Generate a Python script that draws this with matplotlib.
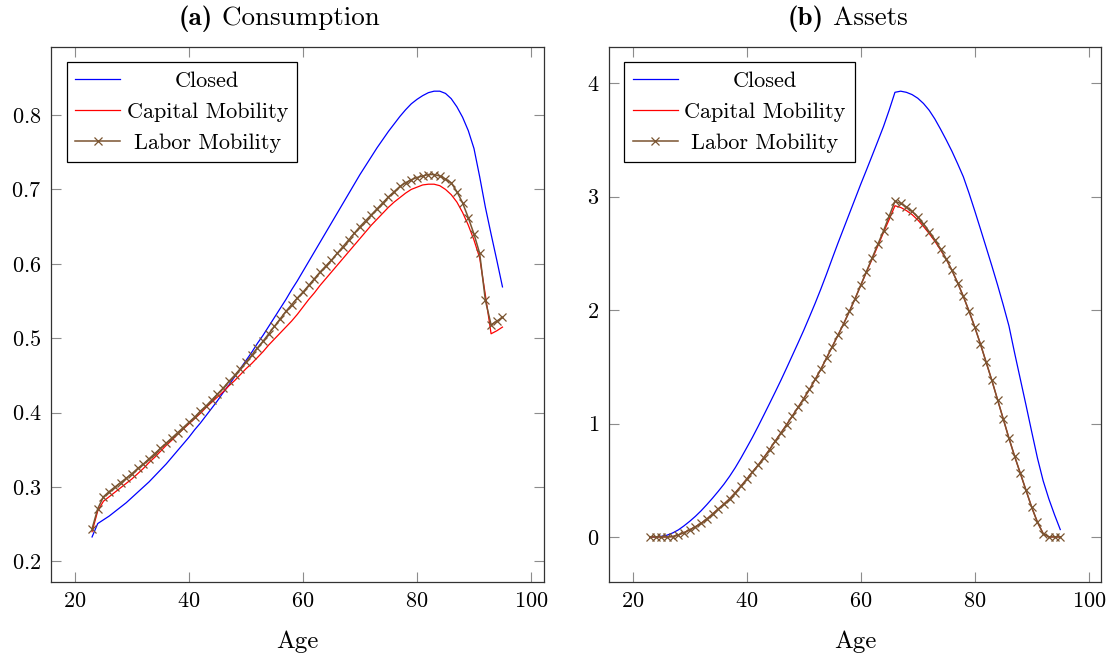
import matplotlib
matplotlib.use("Agg")
import matplotlib.pyplot as plt
import numpy as np

plt.rcParams["font.family"] = ["cmr10", "DejaVu Serif"]
plt.rcParams["mathtext.fontset"] = "cm"
plt.rcParams["axes.formatter.use_mathtext"] = True
plt.rcParams["axes.unicode_minus"] = False

ages = np.arange(23, 96)

# (a) consumption
cons_closed = [
    0.233, 0.251, 0.256, 0.261, 0.267, 0.273, 0.279, 0.286, 0.293, 0.300,
    0.307, 0.315, 0.323, 0.331, 0.340, 0.349, 0.358, 0.367, 0.377, 0.386,
    0.396, 0.406, 0.416, 0.427, 0.437, 0.448, 0.459, 0.470, 0.481, 0.493,
    0.504, 0.516, 0.528, 0.540, 0.552, 0.565, 0.577, 0.590, 0.603, 0.616,
    0.629, 0.642, 0.655, 0.668, 0.681, 0.694, 0.707, 0.720, 0.732, 0.744,
    0.756, 0.767, 0.778, 0.788, 0.798, 0.807, 0.815, 0.821, 0.826, 0.830,
    0.832, 0.832, 0.829, 0.822, 0.811, 0.797, 0.779, 0.755, 0.717, 0.676,
    0.640, 0.605, 0.569,
]
cons_capital = [
    0.240, 0.268, 0.281, 0.287, 0.293, 0.299, 0.305, 0.311, 0.318, 0.325,
    0.333, 0.340, 0.348, 0.356, 0.363, 0.371, 0.378, 0.385, 0.392, 0.399,
    0.407, 0.414, 0.421, 0.428, 0.436, 0.443, 0.451, 0.459, 0.466, 0.474,
    0.482, 0.491, 0.499, 0.507, 0.515, 0.523, 0.532, 0.542, 0.552, 0.561,
    0.571, 0.580, 0.589, 0.598, 0.607, 0.616, 0.625, 0.634, 0.643, 0.652,
    0.660, 0.668, 0.676, 0.683, 0.689, 0.695, 0.700, 0.703, 0.706, 0.707,
    0.707, 0.705, 0.700, 0.693, 0.683, 0.669, 0.652, 0.632, 0.608, 0.558,
    0.506, 0.510, 0.515,
]
cons_labor = [
    0.244, 0.271, 0.287, 0.294, 0.300, 0.306, 0.312, 0.318, 0.325, 0.331,
    0.338, 0.345, 0.352, 0.359, 0.366, 0.373, 0.380, 0.387, 0.394, 0.402,
    0.409, 0.417, 0.425, 0.433, 0.442, 0.450, 0.459, 0.468, 0.477, 0.487,
    0.496, 0.506, 0.516, 0.526, 0.536, 0.545, 0.554, 0.562, 0.571, 0.580,
    0.589, 0.597, 0.605, 0.614, 0.623, 0.632, 0.641, 0.650, 0.658, 0.666,
    0.674, 0.682, 0.690, 0.697, 0.704, 0.709, 0.713, 0.716, 0.718, 0.720,
    0.720, 0.718, 0.714, 0.709, 0.697, 0.682, 0.662, 0.640, 0.614, 0.551,
    0.518, 0.523, 0.528,
]

# (b) assets
assets_closed = [
    0.000, 0.000, 0.005, 0.015, 0.035, 0.062, 0.098, 0.138, 0.182, 0.231,
    0.285, 0.342, 0.402, 0.465, 0.535, 0.612, 0.697, 0.787, 0.878, 0.975,
    1.075, 1.176, 1.278, 1.382, 1.490, 1.600, 1.710, 1.822, 1.940, 2.060,
    2.186, 2.318, 2.455, 2.590, 2.720, 2.850, 2.980, 3.110, 3.235, 3.362,
    3.490, 3.620, 3.765, 3.920, 3.930, 3.920, 3.900, 3.868, 3.822, 3.762,
    3.685, 3.595, 3.500, 3.400, 3.290, 3.175, 3.030, 2.875, 2.715, 2.553,
    2.390, 2.222, 2.045, 1.860, 1.620, 1.390, 1.160, 0.925, 0.695, 0.495,
    0.335, 0.195, 0.065,
]
assets_capital = [
    0.000, 0.000, 0.000, 0.000, 0.003, 0.018, 0.038, 0.063, 0.090, 0.120,
    0.158, 0.202, 0.247, 0.290, 0.336, 0.390, 0.449, 0.510, 0.573, 0.633,
    0.700, 0.770, 0.845, 0.917, 0.990, 1.066, 1.142, 1.220, 1.300, 1.388,
    1.478, 1.578, 1.678, 1.778, 1.880, 1.988, 2.100, 2.218, 2.336, 2.450,
    2.566, 2.685, 2.800, 2.920, 2.905, 2.878, 2.842, 2.795, 2.738, 2.675,
    2.607, 2.530, 2.448, 2.350, 2.240, 2.120, 1.990, 1.850, 1.700, 1.540,
    1.380, 1.210, 1.040, 0.870, 0.710, 0.560, 0.410, 0.260, 0.130, 0.030,
    0.000, 0.000, 0.000,
]
assets_labor = [
    0.000, 0.000, 0.000, 0.000, 0.003, 0.018, 0.038, 0.063, 0.090, 0.120,
    0.158, 0.202, 0.247, 0.290, 0.336, 0.390, 0.449, 0.510, 0.573, 0.633,
    0.700, 0.770, 0.845, 0.917, 0.990, 1.066, 1.142, 1.220, 1.300, 1.388,
    1.478, 1.578, 1.678, 1.778, 1.880, 1.988, 2.100, 2.220, 2.340, 2.460,
    2.580, 2.700, 2.830, 2.960, 2.940, 2.910, 2.870, 2.820, 2.760, 2.692,
    2.620, 2.540, 2.450, 2.350, 2.240, 2.120, 1.990, 1.850, 1.700, 1.540,
    1.380, 1.210, 1.040, 0.870, 0.710, 0.560, 0.410, 0.260, 0.130, 0.030,
    0.000, 0.000, 0.000,
]

labels = ["Closed", "Capital Mobility", "Labor Mobility"]
BLUE = "#0000ff"
RED = "#ff0000"
BROWN = "#7a5430"

fig = plt.figure(figsize=(11.14, 6.62), dpi=100)
ax_a = fig.add_axes([0.0458, 0.1216, 0.4421, 0.808])
ax_b = fig.add_axes([0.5465, 0.1216, 0.4421, 0.808])
renderer = fig.canvas.get_renderer()


def panel_title(tag, name, xc, size=19.5, yb=0.962):
    # subcaption: bold "(a)" + regular name, centred on the subfigure
    t1 = fig.text(xc, yb, tag, fontfamily="cmb10", fontsize=size,
                  va="baseline", ha="left")
    t2 = fig.text(xc, yb, " " + name, fontsize=size, va="baseline", ha="left")
    w1 = t1.get_window_extent(renderer).width / fig.bbox.width
    w2 = t2.get_window_extent(renderer).width / fig.bbox.width
    t1.set_x(xc - (w1 + w2) / 2)
    t2.set_x(xc - (w1 + w2) / 2 + w1)


def draw_panel(ax, closed, capital, labor):
    ax.plot(ages, closed, color=BLUE, lw=0.9, label=labels[0])
    ax.plot(ages, capital, color=RED, lw=0.9, label=labels[1])
    ax.plot(ages, labor, color=BROWN, lw=1.1, marker="x", ms=5.5, mew=0.9,
            label=labels[2])
    ax.margins(x=0.1, y=0.1)
    ax.set_xticks([20, 40, 60, 80, 100])
    ax.tick_params(direction="in", length=7.5, width=0.8, color="#8c8c8c",
                   top=True, right=True, labelsize=16, pad=7)
    for sp in ax.spines.values():
        sp.set_color("#333333")
        sp.set_linewidth(0.9)
    ax.set_xlabel("Age", fontsize=18, labelpad=14.5)
    leg = ax.legend(loc="upper left", fontsize=16, frameon=True,
                    fancybox=False, framealpha=1, edgecolor="black",
                    borderaxespad=0.7, handlelength=2.0, handletextpad=0.3,
                    labelspacing=0.52, borderpad=0.4)
    leg.get_frame().set_linewidth(0.9)
    return leg


leg_a = draw_panel(ax_a, cons_closed, cons_capital, cons_labor)
ax_a.set_yticks([0.2, 0.3, 0.4, 0.5, 0.6, 0.7, 0.8])
leg_b = draw_panel(ax_b, assets_closed, assets_capital, assets_labor)
ax_b.set_yticks([0, 1, 2, 3, 4])

panel_title("(a)", "Consumption", 279 / 1114)
panel_title("(b)", "Assets", 848 / 1114)

# centre the legend entries the way pgfplots does
for leg in (leg_a, leg_b):
    texts = leg.get_texts()
    widths = [t.get_window_extent(renderer).width for t in texts]
    wmax = max(widths)
    for t, w in zip(texts, widths):
        t.set_position(((wmax - w) / 2, 0))

fig.savefig("out.png", dpi=100)
